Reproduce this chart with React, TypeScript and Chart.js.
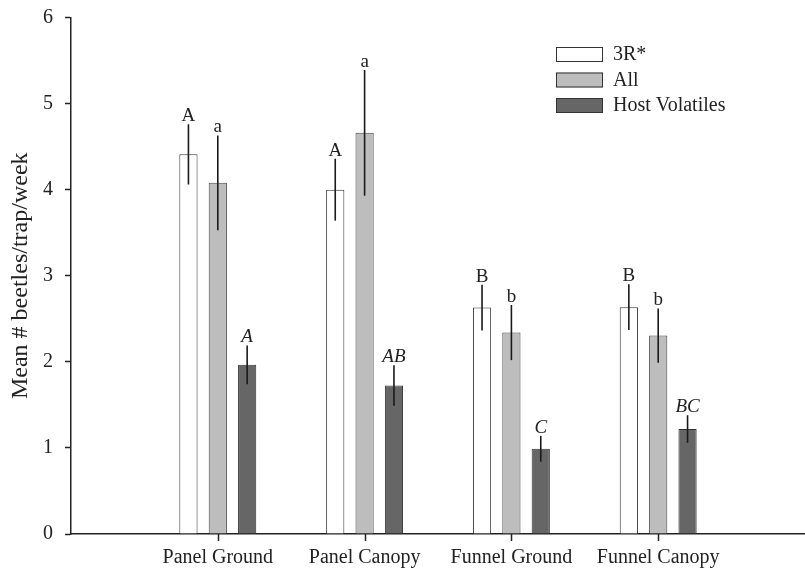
import React, { useEffect, useRef } from "react";
import { Chart, registerables } from "chart.js";

Chart.register(...registerables);

const categories = ["Panel Ground", "Panel Canopy", "Funnel Ground", "Funnel Canopy"];
const seriesNames = ["3R*", "All", "Host Volatiles"];
const mean3R = [4.41, 4.0, 2.63, 2.635];
const meanAll = [4.08, 4.66, 2.34, 2.305];
const meanHost = [1.965, 1.725, 0.99, 1.22];
const err3R = [0.35, 0.36, 0.265, 0.265];
const errAll = [0.55, 0.73, 0.32, 0.315];
const errHost = [0.225, 0.235, 0.15, 0.16];
const letters3R = ["A", "A", "B", "B"];
const lettersAll = ["a", "a", "b", "b"];
const lettersHost = ["A", "AB", "C", "BC"];
const yTicks = [0, 1, 2, 3, 4, 5, 6];

const FONT = "'Liberation Serif', 'Times New Roman', serif";
const INK = "#222222";

const pad = (arr: any[]) => [null, ...arr, null];

export default function App() {
  const ref = useRef<HTMLCanvasElement | null>(null);

  useEffect(() => {
    if (!ref.current) return;
    const errors = [err3R, errAll, errHost];
    const letters = [letters3R, lettersAll, lettersHost];

    const errorBarPlugin = {
      id: "errorBars",
      afterDatasetsDraw(chart: any) {
        const ctx = chart.ctx;
        const y = chart.scales.y;
        ctx.save();
        chart.data.datasets.forEach((ds: any, di: number) => {
          const meta = chart.getDatasetMeta(di);
          meta.data.forEach((bar: any, i: number) => {
            const v = ds.data[i];
            if (v === null || v === undefined) return;
            const e = errors[di][i - 1];
            const top = y.getPixelForValue(v + e);
            const bot = y.getPixelForValue(v - e);
            ctx.strokeStyle = "#1a1a1a";
            ctx.lineWidth = 1.6;
            ctx.beginPath();
            ctx.moveTo(bar.x, top);
            ctx.lineTo(bar.x, bot);
            ctx.stroke();
            ctx.fillStyle = INK;
            ctx.font = (di === 2 ? "italic " : "") + "19px " + FONT;
            ctx.textAlign = "center";
            ctx.textBaseline = "alphabetic";
            ctx.fillText(letters[di][i - 1], bar.x, top - 3);
          });
        });
        ctx.restore();
      },
    };

    const xTickPlugin = {
      id: "xCategoryTicks",
      afterDraw(chart: any) {
        const ctx = chart.ctx;
        const x = chart.scales.x;
        ctx.save();
        ctx.strokeStyle = INK;
        ctx.lineWidth = 1.5;
        categories.forEach((_c, i) => {
          const px = Math.round(x.getPixelForValue(i + 1)) + 0.5;
          ctx.beginPath();
          ctx.moveTo(px, x.top);
          ctx.lineTo(px, x.top + 7);
          ctx.stroke();
        });
        ctx.restore();
      },
    };

    const legendPlugin = {
      id: "innerLegend",
      afterDraw(chart: any) {
        const ctx = chart.ctx;
        ctx.save();
        chart.data.datasets.forEach((ds: any, di: number) => {
          const bx = 556;
          const by = 47 + di * 25.5;
          ctx.fillStyle = ds.backgroundColor;
          ctx.fillRect(bx, by, 47, 15);
          ctx.strokeStyle = "#333";
          ctx.lineWidth = 1;
          ctx.strokeRect(bx + 0.5, by + 0.5, 46, 14);
          ctx.fillStyle = INK;
          ctx.font = "20px " + FONT;
          ctx.textAlign = "left";
          ctx.textBaseline = "middle";
          ctx.fillText(ds.label, 613, by + 8);
        });
        ctx.restore();
      },
    };

    const chart = new Chart(ref.current, {
      type: "bar",
      data: {
        labels: pad(categories),
        datasets: [
          {
            label: seriesNames[0],
            data: pad(mean3R),
            backgroundColor: "#ffffff",
            borderColor: "#333333",
            borderWidth: 1,
          },
          {
            label: seriesNames[1],
            data: pad(meanAll),
            backgroundColor: "#bdbdbd",
            borderColor: "#444444",
            borderWidth: 1,
          },
          {
            label: seriesNames[2],
            data: pad(meanHost),
            backgroundColor: "#666666",
            borderColor: "#333333",
            borderWidth: 1,
          },
        ],
      },
      options: {
        animation: false,
        responsive: false,
        maintainAspectRatio: false,
        categoryPercentage: 0.6,
        barPercentage: 0.62,
        layout: { padding: { top: 0, right: 0, bottom: 0, left: 0 } },
        plugins: {
          legend: { display: false },
          tooltip: { enabled: false },
        },
        scales: {
          x: {
            type: "category",
            offset: false,
            grid: {
              display: true,
              offset: false,
              drawOnChartArea: false,
              drawTicks: false,
            },
            border: { display: true, color: INK, width: 1.5 },
            ticks: {
              color: INK,
              font: { family: FONT, size: 20 },
              padding: 12,
              maxRotation: 0,
              autoSkip: false,
            },
            afterFit: (s: any) => {
              s.height = 37;
            },
          },
          y: {
            min: 0,
            max: 6,
            afterBuildTicks: (s: any) => {
              s.ticks = yTicks.map((v) => ({ value: v }));
            },
            grid: {
              display: true,
              drawOnChartArea: false,
              drawTicks: true,
              tickLength: 6,
              tickWidth: 1.5,
              tickColor: INK,
            },
            border: { display: true, color: INK, width: 1.5 },
            ticks: {
              color: INK,
              font: { family: FONT, size: 20, lineHeight: 0.55 },
              padding: 12,
            },
            title: {
              display: true,
              text: "Mean # beetles/trap/week",
              color: INK,
              font: { family: FONT, size: 24, lineHeight: 1.2 },
              padding: { top: 6, bottom: 0 },
            },
            afterFit: (s: any) => {
              s.width = 71;
            },
          },
        },
      },
      plugins: [errorBarPlugin, xTickPlugin, legendPlugin],
    });
    return () => chart.destroy();
  }, []);

  return (
    <div style={{ position: "absolute", left: 0, top: 0, width: 805, height: 571, background: "#fff" }}>
      <canvas ref={ref} width={805} height={571} style={{ width: 805, height: 571 }} />
    </div>
  );
}
